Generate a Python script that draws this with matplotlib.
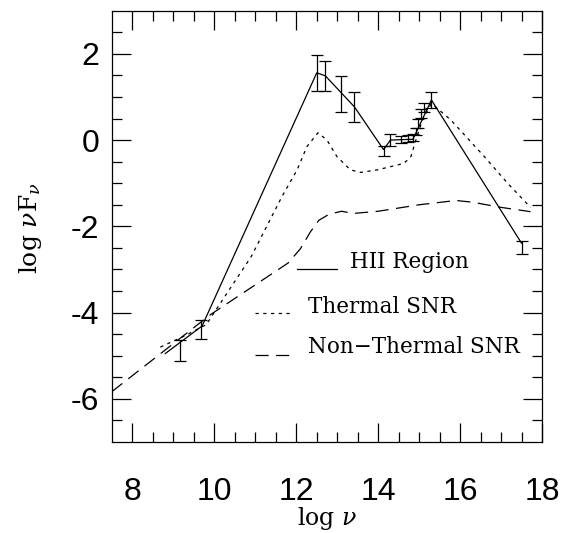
import matplotlib
matplotlib.use("Agg")
import matplotlib.pyplot as plt
import numpy as np

plt.rcParams["axes.unicode_minus"] = False
plt.rcParams["mathtext.fontset"] = "dejavuserif"

# HII region model (solid)
hii_x = [8.80, 9.70, 12.50, 12.71, 13.42, 14.13, 14.30, 14.85, 15.30, 17.50]
hii_y = [-4.95, -4.31, 1.56, 1.49, 0.77, -0.22, 0.00, 0.02, 0.93, -2.39]

# Thermal SNR model (dotted)
th_x = [8.68, 9.25, 9.80, 10.90, 11.65, 12.02, 12.26, 12.53, 12.75, 12.99, 13.32,
        13.57, 13.98, 14.63, 14.80, 14.92, 15.08, 15.30, 15.77, 16.59, 17.16, 17.72]
th_y = [-4.80, -4.55, -4.28, -2.70, -1.31, -0.69, -0.15, 0.17, 0.00, -0.38, -0.69,
        -0.75, -0.69, -0.54, -0.38, 0.00, 0.47, 0.85, 0.47, -0.38, -1.00, -1.56]

# Non-thermal SNR model (dashed)
nt_x = [7.50, 9.90, 11.80, 12.10, 12.35, 12.55, 12.80, 13.10, 13.40, 14.00, 15.00,
        15.90, 16.30, 17.00, 17.72]
nt_y = [-5.83, -4.05, -2.85, -2.52, -2.12, -1.86, -1.72, -1.65, -1.70, -1.65, -1.50,
        -1.40, -1.44, -1.56, -1.66]

# Observed points with error bars
obs_x = [9.16, 9.68, 12.50, 12.71, 13.09, 13.42, 14.13, 14.30, 14.55, 14.72, 14.84,
         14.92, 14.96, 15.04, 15.12, 15.28, 17.50]
obs_y = [-4.88, -4.40, 1.56, 1.49, 1.07, 0.77, -0.26, 0.00, 0.02, 0.04, 0.07,
         0.20, 0.38, 0.62, 0.75, 0.93, -2.49]
obs_err = [0.24, 0.22, 0.42, 0.35, 0.42, 0.34, 0.12, 0.13, 0.08, 0.08, 0.08,
           0.08, 0.10, 0.10, 0.10, 0.19, 0.14]

legend_labels = ["HII Region", "Thermal SNR", "Non\u2212Thermal SNR"]

fig = plt.figure(figsize=(5.61, 5.33), dpi=100)
ax = fig.add_axes([112/561, 1-442/533, 430/561, 431.3/533])

lw = 0.9
ax.plot(hii_x, hii_y, color="black", lw=lw, solid_joinstyle="miter")
ax.plot(th_x, th_y, color="black", lw=lw, dashes=(2.6, 3.6))
ax.plot(nt_x, nt_y, color="black", lw=lw, dashes=(10.5, 6.0))
ax.errorbar(obs_x, obs_y, yerr=obs_err, fmt="none", ecolor="black",
            elinewidth=0.9, capsize=4.2, capthick=0.9)

ax.set_xlim(7.5, 18)
ax.set_ylim(-7, 3)
ax.set_xticks([8, 10, 12, 14, 16, 18])
ax.set_xticks(np.arange(8, 18, 0.5), minor=True)
ax.set_yticks([-6, -4, -2, 0, 2])
ax.set_yticks(np.arange(-6.5, 3, 0.5), minor=True)
ax.tick_params(which="both", direction="in", top=True, right=True, width=0.9)
ax.tick_params(which="major", length=14)
ax.tick_params(which="minor", length=7)
ax.tick_params(axis="x", which="major", pad=25)
ax.tick_params(axis="y", which="major", pad=9)
for lab in ax.get_xticklabels() + ax.get_yticklabels():
    lab.set_fontfamily("Liberation Sans")
    lab.set_fontsize(23)
for s in ax.spines.values():
    s.set_linewidth(0.9)

fig.text((112 + 542) / 2 / 561, 1 - 518 / 533, r"log $\nu$", fontsize=17,
         family="DejaVu Serif", ha="center", va="center")
fig.text(30 / 561, 1 - 228 / 533, r"log $\nu$F$_\nu$", fontsize=18,
         family="DejaVu Serif", ha="center", va="center", rotation=90)

# manual legend
tr = ax.transAxes
ax.plot([0.430, 0.523], [0.401, 0.401], color="black", lw=lw, transform=tr)
ax.text(0.553, 0.417, legend_labels[0], transform=tr, fontsize=15.5,
        family="DejaVu Serif", va="center", ha="left")
ax.plot([0.333, 0.414], [0.299, 0.299], color="black", lw=lw, dashes=(2.6, 3.6), transform=tr)
ax.text(0.456, 0.313, legend_labels[1], transform=tr, fontsize=15.5,
        family="DejaVu Serif", va="center", ha="left")
ax.plot([0.333, 0.414], [0.202, 0.202], color="black", lw=lw, dashes=(10.5, 6.0), transform=tr)
ax.text(0.456, 0.220, legend_labels[2], transform=tr, fontsize=15.5,
        family="DejaVu Serif", va="center", ha="left")

fig.savefig("out.png", dpi=100)
